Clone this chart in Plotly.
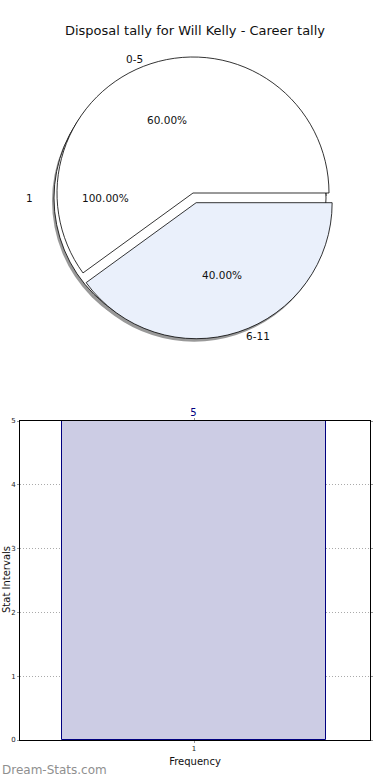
import numpy as np
import plotly.graph_objects as go

# ---------------- data ----------------
chart_title = "Disposal tally for Will Kelly - Career tally"
outer_labels = ["1"]
outer_values = [5]
inner_labels = ["0-5", "6-11"]
inner_values = [3, 2]
bar_categories = [1]
bar_values = [5]
y_ticks = [0, 1, 2, 3, 4, 5]
x_title = "Frequency"
y_title = "Stat Intervals"
watermark = "Dream-Stats.com"

# ---------------- layout constants ----------------
W, H = 390, 780
ML, MR, MT, MB = 20, 20, 20, 40
PW, PH = W - ML - MR, H - MT - MB
FONT = "DejaVu Sans"
R = 136            # pie radius in px
RX, RY = 141, 128  # label placement radii
EXPLODE = [0.0, 0.075]
SHADOW = (-2, 3)
inner_center = (193, 193)
outer_center = (190, 198)
inner_colors = ["#ffffff", "#eaf0fb"]
PIE_FONT = 10.5
# first wedge starts at 3 o'clock and runs counter-clockwise (plotly angles are clockwise from 12)
inner_rotation = 90 - 360.0 * inner_values[0] / sum(inner_values)


def fx(px):
    return (px - ML) / PW


def fy(py):
    return (H - MB - py) / PH


def dom(cx, cy, size):
    return dict(x=[fx(cx - size / 2), fx(cx + size / 2)],
                y=[fy(cy + size / 2), fy(cy - size / 2)])


fig = go.Figure()

# shadows
size_outer = 2 * R
size_inner = 2 * R * (1 + max(EXPLODE))
fig.add_trace(go.Pie(labels=outer_labels, values=outer_values, sort=False,
                     domain=dom(outer_center[0] + SHADOW[0], outer_center[1] + SHADOW[1], size_outer),
                     marker=dict(colors=["#999999"], line=dict(width=0)),
                     textinfo="none", hoverinfo="skip", showlegend=False))
fig.add_trace(go.Pie(labels=inner_labels, values=inner_values, sort=False,
                     direction="counterclockwise", rotation=inner_rotation, pull=EXPLODE,
                     domain=dom(inner_center[0] + SHADOW[0], inner_center[1] + SHADOW[1], size_inner),
                     marker=dict(colors=["#999999", "#999999"], line=dict(width=0)),
                     textinfo="none", hoverinfo="skip", showlegend=False))
# pies
fig.add_trace(go.Pie(labels=outer_labels, values=outer_values, sort=False,
                     domain=dom(outer_center[0], outer_center[1], size_outer),
                     marker=dict(colors=["#ffffff"], line=dict(color="black", width=0.8)),
                     textinfo="none", showlegend=False))
fig.add_trace(go.Pie(labels=inner_labels, values=inner_values, sort=False,
                     direction="counterclockwise", rotation=inner_rotation, pull=EXPLODE,
                     domain=dom(inner_center[0], inner_center[1], size_inner),
                     marker=dict(colors=inner_colors, line=dict(color="black", width=0.8)),
                     textinfo="none", showlegend=False))

annotations = []


def pie_labels(labels, values, center, explode):
    total = float(sum(values))
    start = 0.0
    for i, (lab, v) in enumerate(zip(labels, values)):
        frac = v / total
        mid = np.deg2rad((start + frac / 2) * 360.0)
        start += frac
        ox = explode[i] * RX * np.cos(mid)
        oy = explode[i] * RY * np.sin(mid)
        cx, cy = center[0] + ox, center[1] - oy
        lx = cx + 1.1 * RX * np.cos(mid)
        ly = cy - 1.1 * RY * np.sin(mid)
        px = cx + 0.6 * RX * np.cos(mid)
        py = cy - 0.6 * RY * np.sin(mid)
        annotations.append(dict(x=fx(lx), y=fy(ly), xref="paper", yref="paper",
                                text=lab, showarrow=False,
                                xanchor="right" if np.cos(mid) < -1e-9 else "left",
                                yanchor="middle", font=dict(size=PIE_FONT, color="#111")))
        annotations.append(dict(x=fx(px), y=fy(py), xref="paper", yref="paper",
                                text=f"{frac * 100:.2f}%", showarrow=False,
                                xanchor="center", yanchor="middle",
                                font=dict(size=PIE_FONT, color="#111")))


pie_labels(outer_labels, outer_values, outer_center, [0.0])
pie_labels(inner_labels, inner_values, inner_center, EXPLODE)

# bar chart
fig.add_trace(go.Bar(x=bar_categories, y=bar_values, width=0.8,
                     marker=dict(color="#ccccE4", line=dict(color="#000080", width=1)),
                     text=[str(v) for v in bar_values], textposition="outside",
                     cliponaxis=False, textfont=dict(size=10, color="#000080"),
                     showlegend=False, xaxis="x", yaxis="y"))

# y-axis title, placed at the far left edge as in the reference
annotations.append(dict(x=fx(6), y=fy(580), xref="paper", yref="paper",
                        text=y_title, showarrow=False, textangle=-90,
                        xanchor="center", yanchor="middle",
                        font=dict(size=10, color="#111")))
annotations.append(dict(x=fx(0), y=fy(770), xref="paper", yref="paper",
                        text=watermark, showarrow=False, xanchor="left",
                        yanchor="middle", font=dict(size=12, color="#8f8f8f")))

grid = dict(showgrid=True, gridcolor="#aaaaaa", griddash="1px,2px", gridwidth=1,
            showline=True, linecolor="black", linewidth=1, mirror="ticks",
            ticks="outside", ticklen=2, tickcolor="#999", zeroline=False,
            automargin=False)

fig.update_layout(
    width=W, height=H, autosize=False,
    margin=dict(l=ML, r=MR, t=MT, b=MB, autoexpand=False),
    paper_bgcolor="white", plot_bgcolor="white",
    font=dict(family=FONT, color="#111"),
    title=dict(text=chart_title, x=0.5, xref="container", y=1 - 30 / H,
               yref="container", xanchor="center", yanchor="middle",
               font=dict(size=13, color="#111")),
    xaxis=dict(domain=[0, 1], range=[0.473, 1.533], tickvals=bar_categories,
               ticktext=[str(c) for c in bar_categories],
               tickfont=dict(size=7, color="#222"),
               title=dict(text=x_title, font=dict(size=10), standoff=5),
               anchor="y", **grid),
    yaxis=dict(domain=[0, fy(421)], range=[0, 5], tickvals=y_ticks,
               tickfont=dict(size=7, color="#222"), anchor="x", **grid),
    annotations=annotations,
    bargap=0,
)

fig.write_html("out.html", config={"displayModeBar": False},
               post_script="document.body.style.margin='0px';")
